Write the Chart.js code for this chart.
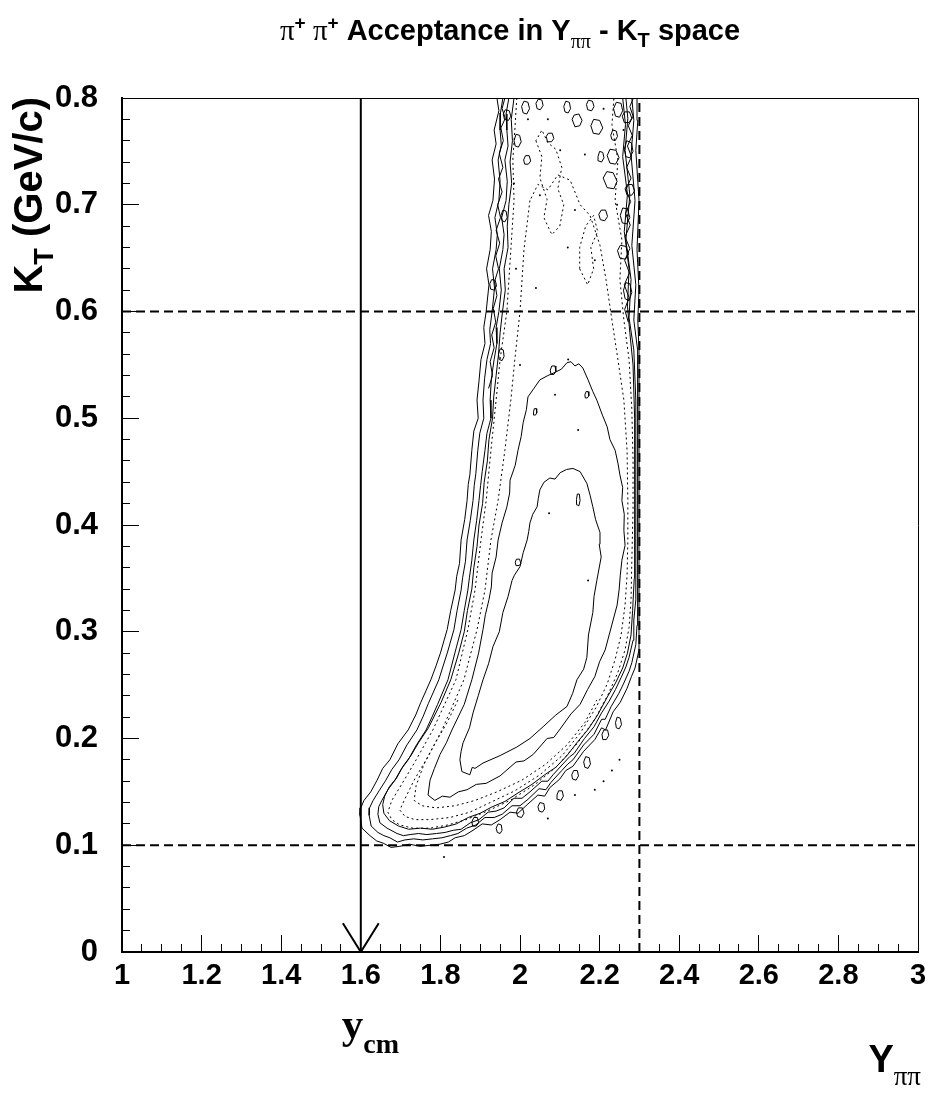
<!DOCTYPE html>
<html>
<head>
<meta charset="utf-8">
<title>pi+ pi+ Acceptance in Y - KT space</title>
<script src="https://cdn.jsdelivr.net/npm/chart.js@4.4.1/dist/chart.umd.min.js"></script>
<style>
html,body{margin:0;padding:0;background:#fff;overflow:hidden;}
canvas{display:block;}
</style>
</head>
<body>
<canvas id="c" width="933" height="1093"></canvas>
<script>
// ---------------- axis ranges and ticks ----------------
const xRange = [1, 3];
const yRange = [0, 0.8];
const xTickValues = [1, 1.2, 1.4, 1.6, 1.8, 2, 2.2, 2.4, 2.6, 2.8, 3];
const xTickLabels = ['1', '1.2', '1.4', '1.6', '1.8', '2', '2.2', '2.4', '2.6', '2.8', '3'];
const yTickValues = [0, 0.1, 0.2, 0.3, 0.4, 0.5, 0.6, 0.7, 0.8];
const yTickLabels = ['0', '0.1', '0.2', '0.3', '0.4', '0.5', '0.6', '0.7', '0.8'];
const xMinorStep = 0.05;
const yMinorStep = 0.02;

// ---------------- cut lines and y_cm arrow ----------------
const kTCuts = [0.1, 0.6];
const yAcceptEdge = 2.3;
const yCm = 1.6;
const arrowHead = [[1.555, 0.027], [1.6, 0.0], [1.645, 0.027]];

// ---------------- contour lines (Y_pipi, K_T) ----------------
const outer1 = [[1.942,0.800],[1.947,0.788],[1.935,0.770],[1.940,0.757],[1.930,0.742],[1.936,0.724],[1.932,0.704],[1.921,0.690],[1.928,0.675],[1.925,0.658],[1.916,0.640],[1.922,0.625],[1.915,0.600],[1.909,0.585],[1.912,0.570],[1.902,0.555],[1.897,0.535],[1.892,0.517],[1.895,0.500],[1.884,0.488],[1.879,0.470],[1.874,0.447],[1.870,0.438],[1.867,0.423],[1.861,0.405],[1.852,0.386],[1.848,0.364],[1.841,0.352],[1.837,0.339],[1.826,0.320],[1.817,0.302],[1.800,0.280],[1.789,0.268],[1.776,0.255],[1.751,0.234],[1.738,0.222],[1.719,0.208],[1.693,0.195],[1.673,0.180],[1.655,0.172],[1.641,0.161],[1.625,0.150],[1.608,0.142],[1.600,0.135],[1.598,0.128],[1.603,0.116],[1.623,0.109],[1.640,0.104],[1.656,0.102],[1.676,0.098],[1.698,0.099],[1.722,0.101],[1.749,0.099],[1.775,0.100],[1.799,0.101],[1.820,0.103],[1.837,0.107],[1.860,0.109],[1.882,0.114],[1.905,0.120],[1.928,0.119],[1.950,0.124],[1.975,0.131],[1.995,0.130],[2.018,0.138],[2.045,0.147],[2.062,0.146],[2.075,0.154],[2.100,0.162],[2.115,0.170],[2.133,0.174],[2.160,0.188],[2.188,0.199],[2.205,0.210],[2.215,0.208],[2.234,0.225],[2.252,0.234],[2.269,0.247],[2.280,0.258],[2.289,0.266],[2.299,0.283],[2.299,0.330],[2.299,0.423],[2.299,0.517],[2.299,0.564],[2.296,0.592],[2.299,0.620],[2.294,0.658],[2.299,0.704],[2.291,0.751],[2.296,0.779],[2.294,0.800]];

const outer2 = [[1.957,0.800],[1.951,0.786],[1.950,0.770],[1.953,0.756],[1.945,0.742],[1.950,0.722],[1.947,0.704],[1.937,0.688],[1.943,0.672],[1.940,0.658],[1.931,0.640],[1.936,0.622],[1.930,0.600],[1.924,0.583],[1.926,0.570],[1.917,0.555],[1.911,0.537],[1.907,0.517],[1.909,0.500],[1.899,0.486],[1.894,0.470],[1.889,0.448],[1.885,0.437],[1.882,0.423],[1.875,0.404],[1.867,0.386],[1.863,0.366],[1.856,0.351],[1.852,0.339],[1.842,0.320],[1.834,0.302],[1.818,0.281],[1.806,0.267],[1.796,0.255],[1.770,0.233],[1.757,0.221],[1.741,0.208],[1.716,0.194],[1.696,0.180],[1.678,0.171],[1.663,0.161],[1.646,0.151],[1.631,0.142],[1.622,0.135],[1.621,0.128],[1.626,0.118],[1.643,0.112],[1.658,0.109],[1.673,0.107],[1.692,0.103],[1.711,0.105],[1.733,0.106],[1.756,0.105],[1.780,0.106],[1.804,0.107],[1.825,0.109],[1.844,0.111],[1.866,0.116],[1.889,0.119],[1.912,0.126],[1.935,0.126],[1.955,0.129],[1.980,0.137],[2.000,0.137],[2.020,0.143],[2.048,0.153],[2.065,0.152],[2.078,0.159],[2.105,0.170],[2.120,0.176],[2.133,0.180],[2.160,0.194],[2.186,0.204],[2.205,0.218],[2.214,0.218],[2.229,0.230],[2.248,0.242],[2.261,0.252],[2.274,0.263],[2.281,0.271],[2.291,0.288],[2.294,0.306],[2.296,0.330],[2.296,0.423],[2.296,0.517],[2.294,0.564],[2.286,0.592],[2.291,0.625],[2.281,0.662],[2.289,0.704],[2.279,0.747],[2.286,0.779],[2.281,0.800]];

const outer3 = [[1.972,0.800],[1.965,0.785],[1.967,0.770],[1.970,0.755],[1.962,0.742],[1.968,0.722],[1.965,0.704],[1.954,0.688],[1.960,0.672],[1.957,0.658],[1.948,0.640],[1.953,0.620],[1.947,0.600],[1.940,0.585],[1.942,0.570],[1.935,0.555],[1.928,0.537],[1.925,0.517],[1.927,0.500],[1.917,0.486],[1.912,0.470],[1.905,0.450],[1.901,0.437],[1.897,0.423],[1.891,0.404],[1.884,0.386],[1.879,0.367],[1.873,0.351],[1.869,0.339],[1.860,0.320],[1.852,0.302],[1.837,0.281],[1.828,0.268],[1.819,0.255],[1.793,0.232],[1.780,0.221],[1.764,0.208],[1.740,0.194],[1.719,0.180],[1.701,0.171],[1.686,0.161],[1.668,0.152],[1.653,0.142],[1.645,0.136],[1.643,0.129],[1.648,0.121],[1.666,0.116],[1.691,0.111],[1.707,0.109],[1.724,0.110],[1.745,0.111],[1.766,0.110],[1.790,0.111],[1.812,0.112],[1.832,0.114],[1.852,0.115],[1.875,0.121],[1.897,0.124],[1.920,0.131],[1.940,0.132],[1.960,0.135],[1.985,0.144],[2.005,0.144],[2.025,0.150],[2.055,0.160],[2.070,0.160],[2.083,0.166],[2.110,0.177],[2.125,0.183],[2.136,0.186],[2.162,0.200],[2.186,0.211],[2.205,0.224],[2.224,0.235],[2.240,0.246],[2.254,0.257],[2.266,0.267],[2.274,0.276],[2.284,0.292],[2.286,0.311],[2.291,0.330],[2.291,0.423],[2.291,0.517],[2.286,0.564],[2.274,0.594],[2.279,0.630],[2.266,0.667],[2.276,0.709],[2.264,0.751],[2.271,0.781],[2.266,0.800]];

const outer4 = [[1.985,0.800],[1.978,0.780],[1.981,0.760],[1.975,0.740],[1.979,0.720],[1.972,0.700],[1.968,0.680],[1.970,0.660],[1.960,0.640],[1.963,0.620],[1.956,0.600],[1.950,0.580],[1.946,0.560],[1.940,0.540],[1.934,0.520],[1.931,0.500],[1.922,0.480],[1.918,0.460],[1.910,0.440],[1.906,0.420],[1.897,0.400],[1.892,0.380],[1.884,0.360],[1.879,0.340],[1.868,0.320],[1.860,0.300],[1.846,0.280],[1.834,0.265],[1.826,0.255],[1.802,0.234],[1.786,0.222],[1.770,0.210],[1.745,0.196],[1.726,0.184],[1.706,0.174],[1.690,0.163],[1.672,0.155],[1.660,0.146],[1.655,0.138],[1.658,0.130],[1.672,0.123],[1.695,0.118],[1.720,0.115],[1.750,0.116],[1.780,0.115],[1.810,0.117],[1.840,0.120],[1.870,0.126],[1.900,0.130],[1.930,0.136],[1.962,0.141],[1.995,0.149],[2.030,0.157],[2.062,0.166],[2.090,0.173],[2.118,0.184],[2.145,0.197],[2.170,0.208],[2.195,0.222],[2.218,0.238],[2.240,0.252],[2.258,0.266],[2.270,0.280],[2.279,0.297],[2.283,0.320],[2.287,0.350],[2.288,0.420],[2.288,0.500],[2.284,0.550],[2.276,0.580],[2.270,0.605],[2.274,0.640],[2.262,0.675],[2.270,0.710],[2.258,0.745],[2.265,0.775],[2.258,0.800]];

// jagged fluctuation fragments along the upper edges
const edgeNoiseLeft = [[1.962,0.800],[1.955,0.790],[1.963,0.781],[1.952,0.772],[1.958,0.760],[1.948,0.748],[1.957,0.735],[1.946,0.724],[1.955,0.712],[1.944,0.700],[1.951,0.688],[1.940,0.676],[1.949,0.664],[1.939,0.652],[1.946,0.640],[1.936,0.628],[1.942,0.615],[1.933,0.603],[1.939,0.590],[1.929,0.578],[1.935,0.566],[1.925,0.553],[1.931,0.540],[1.921,0.528]];
const edgeNoiseRight = [[2.285,0.800],[2.276,0.792],[2.284,0.783],[2.272,0.774],[2.282,0.765],[2.270,0.755],[2.280,0.745],[2.268,0.735],[2.279,0.725],[2.266,0.714],[2.278,0.703],[2.265,0.692],[2.277,0.681],[2.264,0.670],[2.276,0.659],[2.263,0.648],[2.275,0.636],[2.262,0.625],[2.274,0.613],[2.263,0.602],[2.272,0.590]];

const dotted1 = [[1.992,0.800],[1.987,0.770],[1.982,0.742],[1.985,0.704],[1.977,0.658],[1.967,0.600],[1.950,0.555],[1.940,0.517],[1.927,0.470],[1.915,0.423],[1.902,0.386],[1.887,0.339],[1.869,0.302],[1.839,0.255],[1.781,0.208],[1.739,0.180],[1.709,0.161],[1.678,0.142],[1.668,0.131],[1.678,0.124],[1.698,0.119],[1.731,0.116],[1.774,0.116],[1.819,0.119],[1.864,0.124],[1.912,0.131],[1.975,0.142],[2.038,0.157],[2.093,0.174],[2.143,0.195],[2.188,0.218],[2.221,0.241],[2.246,0.262],[2.264,0.283],[2.274,0.304],[2.279,0.330],[2.281,0.367],[2.284,0.414],[2.284,0.461],[2.281,0.508],[2.274,0.555],[2.261,0.592],[2.251,0.630],[2.256,0.667],[2.239,0.704],[2.246,0.742],[2.231,0.775],[2.236,0.800]];

const dotted2 = [[2.025,0.704],[2.010,0.658],[2.000,0.600],[1.987,0.555],[1.977,0.517],[1.962,0.470],[1.945,0.423],[1.927,0.386],[1.912,0.339],[1.892,0.302],[1.859,0.255],[1.804,0.208],[1.764,0.180],[1.734,0.161],[1.709,0.142],[1.698,0.133],[1.711,0.127],[1.736,0.124],[1.774,0.124],[1.824,0.126],[1.874,0.131],[1.925,0.140],[1.987,0.151],[2.050,0.166],[2.106,0.184],[2.151,0.205],[2.191,0.229],[2.219,0.251],[2.239,0.274],[2.254,0.297],[2.264,0.325],[2.269,0.353],[2.271,0.386],[2.271,0.423],[2.269,0.470],[2.261,0.517],[2.246,0.555],[2.231,0.592],[2.216,0.630],[2.201,0.662],[2.176,0.690],[2.151,0.700],[2.126,0.723],[2.095,0.728],[2.070,0.714],[2.045,0.719],[2.025,0.704]];

const dotted3 = [[1.844,0.236],[1.817,0.215],[1.789,0.197],[1.759,0.176],[1.739,0.156],[1.734,0.142],[1.754,0.137],[1.789,0.135],[1.837,0.137],[1.887,0.142],[1.942,0.150],[2.005,0.161],[2.065,0.176],[2.118,0.194],[2.163,0.215],[2.193,0.236]];

const dotted4 = [[2.040,0.760],[2.055,0.745],[2.050,0.725],[2.068,0.705],[2.060,0.688],[2.080,0.672],[2.100,0.680],[2.110,0.700],[2.095,0.715],[2.105,0.735],[2.090,0.752],[2.070,0.758],[2.055,0.770],[2.040,0.760]];

const dotted5 = [[2.150,0.640],[2.170,0.625],[2.185,0.640],[2.178,0.660],[2.195,0.675],[2.185,0.690],[2.165,0.680],[2.150,0.660],[2.150,0.640]];

const innerA = [[2.158,0.547],[2.148,0.551],[2.138,0.549],[2.128,0.553],[2.118,0.552],[2.104,0.546],[2.088,0.543],[2.070,0.540],[2.050,0.536],[2.035,0.528],[2.020,0.520],[2.016,0.508],[2.008,0.496],[2.003,0.483],[1.995,0.470],[1.988,0.456],[1.975,0.442],[1.974,0.430],[1.967,0.417],[1.955,0.402],[1.945,0.386],[1.940,0.370],[1.930,0.355],[1.928,0.342],[1.922,0.330],[1.913,0.316],[1.907,0.302],[1.896,0.280],[1.879,0.255],[1.860,0.232],[1.829,0.208],[1.815,0.196],[1.799,0.185],[1.785,0.172],[1.774,0.161],[1.769,0.147],[1.786,0.142],[1.805,0.146],[1.824,0.145],[1.845,0.150],[1.867,0.152],[1.890,0.157],[1.915,0.158],[1.950,0.165],[1.990,0.178],[2.010,0.179],[2.033,0.185],[2.068,0.200],[2.085,0.201],[2.101,0.209],[2.128,0.223],[2.151,0.232],[2.170,0.246],[2.188,0.258],[2.200,0.272],[2.214,0.283],[2.224,0.297],[2.234,0.311],[2.244,0.325],[2.249,0.339],[2.252,0.353],[2.256,0.367],[2.264,0.381],[2.261,0.395],[2.262,0.410],[2.256,0.423],[2.258,0.435],[2.251,0.447],[2.246,0.458],[2.239,0.470],[2.226,0.480],[2.219,0.492],[2.207,0.503],[2.193,0.517],[2.183,0.525],[2.171,0.536],[2.158,0.547]];

const innerB = [[2.133,0.453],[2.117,0.452],[2.101,0.449],[2.088,0.443],[2.075,0.444],[2.060,0.440],[2.050,0.433],[2.046,0.425],[2.043,0.417],[2.032,0.410],[2.025,0.402],[2.022,0.394],[2.018,0.386],[2.008,0.374],[2.000,0.361],[1.986,0.353],[1.980,0.348],[1.970,0.333],[1.957,0.318],[1.948,0.300],[1.932,0.286],[1.921,0.270],[1.907,0.255],[1.895,0.240],[1.882,0.224],[1.873,0.210],[1.857,0.196],[1.852,0.188],[1.849,0.180],[1.854,0.169],[1.874,0.166],[1.880,0.173],[1.887,0.172],[1.907,0.177],[1.950,0.184],[1.992,0.192],[2.025,0.200],[2.058,0.211],[2.090,0.222],[2.118,0.230],[2.132,0.242],[2.143,0.255],[2.160,0.265],[2.168,0.276],[2.172,0.297],[2.183,0.318],[2.186,0.333],[2.193,0.348],[2.204,0.370],[2.199,0.382],[2.201,0.393],[2.190,0.405],[2.183,0.417],[2.176,0.428],[2.168,0.439],[2.151,0.450],[2.133,0.453]];

// small fluctuation islands (closed contours)
const islands = [
 [[2.131,0.780],[2.136,0.784],[2.148,0.785],[2.156,0.779],[2.150,0.774],[2.138,0.773],[2.131,0.780]],
 [[2.178,0.774],[2.185,0.780],[2.200,0.779],[2.208,0.772],[2.199,0.766],[2.184,0.767],[2.178,0.774]],
 [[2.219,0.746],[2.226,0.752],[2.241,0.751],[2.249,0.744],[2.240,0.738],[2.226,0.739],[2.219,0.746]],
 [[2.257,0.783],[2.263,0.787],[2.275,0.787],[2.281,0.781],[2.274,0.777],[2.262,0.777],[2.257,0.783]],
 [[2.066,0.764],[2.071,0.767],[2.081,0.767],[2.085,0.762],[2.079,0.759],[2.069,0.759],[2.066,0.764]],
 [[2.009,0.742],[2.014,0.746],[2.023,0.746],[2.027,0.741],[2.021,0.738],[2.012,0.738],[2.009,0.742]],
 [[2.209,0.725],[2.218,0.731],[2.234,0.730],[2.244,0.722],[2.236,0.715],[2.219,0.716],[2.209,0.725]],
 [[2.264,0.715],[2.270,0.719],[2.282,0.719],[2.288,0.713],[2.281,0.709],[2.269,0.709],[2.264,0.715]],
 [[2.245,0.657],[2.252,0.662],[2.266,0.661],[2.273,0.654],[2.265,0.649],[2.251,0.650],[2.245,0.657]],
 [[2.198,0.691],[2.204,0.695],[2.215,0.695],[2.220,0.689],[2.213,0.685],[2.202,0.686],[2.198,0.691]],
 [[1.958,0.785],[1.963,0.789],[1.973,0.788],[1.977,0.783],[1.971,0.779],[1.961,0.780],[1.958,0.785]],
 [[2.167,0.794],[2.172,0.798],[2.182,0.797],[2.186,0.792],[2.180,0.788],[2.170,0.789],[2.167,0.794]],
 [[1.924,0.626],[1.929,0.630],[1.938,0.629],[1.941,0.624],[1.935,0.620],[1.926,0.621],[1.924,0.626]],
 [[2.235,0.790],[2.242,0.796],[2.254,0.795],[2.258,0.788],[2.250,0.782],[2.240,0.783],[2.235,0.790]],
 [[2.262,0.752],[2.268,0.760],[2.280,0.758],[2.284,0.750],[2.276,0.744],[2.266,0.745],[2.262,0.752]],
 [[2.228,0.765],[2.233,0.770],[2.242,0.769],[2.245,0.764],[2.239,0.760],[2.231,0.761],[2.228,0.765]],
 [[2.252,0.690],[2.258,0.697],[2.270,0.696],[2.276,0.688],[2.268,0.682],[2.257,0.683],[2.252,0.690]],
 [[2.260,0.620],[2.266,0.627],[2.276,0.626],[2.281,0.618],[2.274,0.610],[2.264,0.612],[2.260,0.620]],
 [[2.004,0.792],[2.010,0.797],[2.020,0.796],[2.024,0.790],[2.017,0.785],[2.008,0.786],[2.004,0.792]],
 [[2.040,0.795],[2.046,0.799],[2.055,0.798],[2.058,0.793],[2.051,0.789],[2.043,0.790],[2.040,0.795]],
 [[1.985,0.760],[1.990,0.766],[1.999,0.765],[2.003,0.759],[1.996,0.754],[1.988,0.755],[1.985,0.760]],
 [[1.952,0.690],[1.957,0.695],[1.965,0.694],[1.968,0.688],[1.962,0.684],[1.955,0.685],[1.952,0.690]],
 [[1.946,0.560],[1.950,0.565],[1.958,0.564],[1.960,0.558],[1.955,0.554],[1.948,0.555],[1.946,0.560]],
 [[2.110,0.792],[2.115,0.797],[2.124,0.796],[2.127,0.790],[2.121,0.786],[2.113,0.787],[2.110,0.792]],
 [[2.196,0.745],[2.200,0.750],[2.208,0.749],[2.211,0.744],[2.205,0.740],[2.198,0.741],[2.196,0.745]],
 [[1.991,0.131],[1.996,0.135],[2.006,0.135],[2.010,0.130],[2.004,0.126],[1.994,0.127],[1.991,0.131]],
 [[1.879,0.122],[1.884,0.126],[1.893,0.126],[1.896,0.121],[1.890,0.118],[1.881,0.118],[1.879,0.122]],
 [[2.130,0.166],[2.135,0.170],[2.144,0.170],[2.147,0.165],[2.141,0.161],[2.132,0.162],[2.130,0.166]],
 [[2.206,0.204],[2.211,0.208],[2.220,0.208],[2.223,0.203],[2.217,0.199],[2.208,0.199],[2.206,0.204]],
 [[2.093,0.147],[2.097,0.151],[2.106,0.151],[2.109,0.146],[2.103,0.142],[2.095,0.143],[2.093,0.147]],
 [[2.160,0.178],[2.165,0.183],[2.174,0.182],[2.177,0.176],[2.171,0.172],[2.163,0.173],[2.160,0.178]],
 [[2.240,0.215],[2.244,0.220],[2.252,0.219],[2.255,0.213],[2.249,0.209],[2.242,0.210],[2.240,0.215]],
 [[2.045,0.136],[2.050,0.140],[2.060,0.139],[2.062,0.134],[2.056,0.131],[2.048,0.132],[2.045,0.136]],
 [[1.940,0.116],[1.945,0.120],[1.953,0.119],[1.955,0.114],[1.950,0.111],[1.943,0.112],[1.940,0.116]],
 [[2.076,0.545],[2.080,0.549],[2.088,0.549],[2.090,0.544],[2.085,0.541],[2.078,0.541],[2.076,0.545]],
 [[2.163,0.522],[2.166,0.525],[2.171,0.525],[2.173,0.521],[2.169,0.519],[2.164,0.519],[2.163,0.522]],
 [[2.142,0.424],[2.144,0.429],[2.149,0.429],[2.151,0.423],[2.148,0.418],[2.143,0.419],[2.142,0.424]],
 [[2.034,0.506],[2.036,0.509],[2.041,0.509],[2.042,0.505],[2.039,0.503],[2.035,0.503],[2.034,0.506]],
 [[1.988,0.365],[1.991,0.368],[1.999,0.368],[2.002,0.364],[1.998,0.362],[1.990,0.362],[1.988,0.365]]
];

// isolated single-bin specks
const specks = [[2.101,0.751],[2.163,0.747],[2.050,0.709],[2.138,0.695],[2.188,0.648],[2.244,0.700],[2.088,0.522],[2.146,0.489],[2.121,0.555],[2.073,0.411],[2.171,0.348],[1.809,0.089],[2.138,0.147],[2.231,0.170],[2.188,0.152],[2.000,0.550],[2.040,0.622],[2.020,0.780],[2.070,0.780],[2.260,0.770],[2.210,0.790],[1.985,0.720],[2.120,0.660],[2.230,0.600],[2.270,0.690],[1.990,0.640],[2.250,0.180],[2.070,0.125],[2.210,0.160],[2.160,0.600]];

// ---------------- helpers ----------------
const toXY = arr => arr.map(p => ({x: p[0], y: p[1]}));
const BLACK = '#000000';
function lineSet(arr, opts) {
  return Object.assign({
    data: toXY(arr), showLine: true, borderColor: BLACK, backgroundColor: BLACK,
    borderWidth: 1, pointRadius: 0, pointHoverRadius: 0, fill: false, tension: 0
  }, opts || {});
}

const datasets = [];
kTCuts.forEach(k => datasets.push(lineSet([[xRange[0], k], [xRange[1], k]], {borderWidth: 2, borderDash: [9, 5]})));
datasets.push(lineSet([[yAcceptEdge, yRange[0]], [yAcceptEdge, yRange[1]]], {borderWidth: 2, borderDash: [9, 5]}));
datasets.push(lineSet([[yCm, yRange[1]], [yCm, yRange[0]]], {borderWidth: 2}));
datasets.push(lineSet(arrowHead, {borderWidth: 2}));
[outer1, outer2, outer3, outer4, edgeNoiseLeft, edgeNoiseRight].forEach(c => datasets.push(lineSet(c)));
[dotted1, dotted2, dotted3, dotted4, dotted5].forEach(c => datasets.push(lineSet(c, {borderDash: [2, 3]})));
[innerA, innerB].forEach(c => datasets.push(lineSet(c)));
islands.forEach(c => datasets.push(lineSet(c)));
datasets.push({data: toXY(specks), showLine: false, pointRadius: 1, pointBackgroundColor: BLACK, pointBorderColor: BLACK, pointBorderWidth: 0});

// ---------------- text (titles) ----------------
const SANS = '"Liberation Sans", Arial, Helvetica, sans-serif';
const SERIF = '"Liberation Serif", "Times New Roman", Times, serif';
const titleRuns = [
  {t: 'π', font: '29px ' + SERIF},
  {t: '+', font: 'bold 19px ' + SANS, dy: -11},
  {t: ' π', font: '29px ' + SERIF},
  {t: '+', font: 'bold 19px ' + SANS, dy: -11},
  {t: ' Acceptance in Y', font: 'bold 29px ' + SANS},
  {t: 'ππ', font: '20px ' + SERIF, dy: 8},
  {t: ' - K', font: 'bold 29px ' + SANS},
  {t: 'T', font: 'bold 20px ' + SANS, dy: 7},
  {t: ' space', font: 'bold 29px ' + SANS}
];
const yTitleRuns = [
  {t: 'K', font: 'bold 40px ' + SANS},
  {t: 'T', font: 'bold 27px ' + SANS, dy: 11},
  {t: ' (GeV/c)', font: 'bold 40px ' + SANS}
];
const xTitleRuns = [
  {t: 'Y', font: 'bold 38px ' + SANS},
  {t: 'ππ', font: '27px ' + SERIF, dy: 13}
];
const yCmRuns = [
  {t: 'y', font: 'bold 43px ' + SERIF},
  {t: 'cm', font: 'bold 28px ' + SERIF, dy: 15}
];

function drawRuns(ctx, runs, x, y, align) {
  let total = 0;
  runs.forEach(r => { ctx.font = r.font; r.w = ctx.measureText(r.t).width; total += r.w; });
  let cx = align === 'center' ? x - total / 2 : (align === 'right' ? x - total : x);
  ctx.textAlign = 'left';
  ctx.textBaseline = 'alphabetic';
  runs.forEach(r => { ctx.font = r.font; ctx.fillText(r.t, cx, y + (r.dy || 0)); cx += r.w; });
}

const textPlugin = {
  id: 'rootTexts',
  afterDraw(chart) {
    const ctx = chart.ctx;
    const ca = chart.chartArea;
    ctx.save();
    ctx.fillStyle = BLACK;
    drawRuns(ctx, titleRuns, 510, 40, 'center');
    drawRuns(ctx, xTitleRuns, ca.right + 3, 1072, 'right');
    const px = chart.scales.x.getPixelForValue(yCm);
    drawRuns(ctx, yCmRuns, px - 19, 1038, 'left');
    ctx.translate(42, ca.top - 1);
    ctx.rotate(-Math.PI / 2);
    drawRuns(ctx, yTitleRuns, 0, 0, 'right');
    ctx.restore();
  }
};

const tickFontX = {family: SANS, size: 29, weight: 'bold'};
const tickFontY = {family: SANS, size: 31, weight: 'bold'};
const noPadH = s => { s.paddingLeft = 0; s.paddingRight = 0; };
const noPadV = s => { s.paddingTop = 0; s.paddingBottom = 0; };

new Chart(document.getElementById('c'), {
  type: 'scatter',
  data: {datasets: datasets},
  plugins: [textPlugin],
  options: {
    responsive: false,
    maintainAspectRatio: false,
    devicePixelRatio: 1,
    animation: false,
    events: [],
    layout: {padding: {top: 98, right: 15, bottom: 0, left: 0}},
    plugins: {legend: {display: false}, tooltip: {enabled: false}, title: {display: false}},
    scales: {
      x: {
        type: 'linear', position: 'bottom', min: xRange[0], max: xRange[1], weight: 1,
        afterBuildTicks: s => { s.ticks = xTickValues.map(v => ({value: v})); },
        ticks: {callback: (v, i) => xTickLabels[i], font: tickFontX, color: BLACK, padding: 24, maxRotation: 0, autoSkip: false},
        grid: {display: true, drawOnChartArea: false, drawTicks: true, tickLength: -17, tickColor: BLACK, tickWidth: 1},
        border: {display: true, color: BLACK, width: 2},
        afterFit: s => { s.height = 141; noPadH(s); }
      },
      xMinor: {
        type: 'linear', position: 'bottom', min: xRange[0], max: xRange[1], weight: 0,
        ticks: {display: false, stepSize: xMinorStep, maxTicksLimit: 200, autoSkip: false},
        grid: {display: true, drawOnChartArea: false, drawTicks: true, tickLength: -8, tickColor: BLACK, tickWidth: 1},
        border: {display: false},
        afterFit: s => { s.height = 0; noPadH(s); }
      },
      xTop: {
        type: 'linear', position: 'top', min: xRange[0], max: xRange[1],
        ticks: {display: false}, grid: {display: false},
        border: {display: true, color: BLACK, width: 1},
        afterFit: s => { s.height = 0; noPadH(s); }
      },
      y: {
        type: 'linear', position: 'left', min: yRange[0], max: yRange[1], weight: 1,
        afterBuildTicks: s => { s.ticks = yTickValues.map(v => ({value: v})); },
        ticks: {callback: (v, i) => yTickLabels[i], font: tickFontY, color: BLACK, padding: 41, autoSkip: false},
        grid: {display: true, drawOnChartArea: false, drawTicks: true, tickLength: -17, tickColor: BLACK, tickWidth: 1},
        border: {display: true, color: BLACK, width: 2},
        afterFit: s => { s.width = 122; noPadV(s); }
      },
      yMinor: {
        type: 'linear', position: 'left', min: yRange[0], max: yRange[1], weight: 0,
        ticks: {display: false, stepSize: yMinorStep, maxTicksLimit: 200, autoSkip: false},
        grid: {display: true, drawOnChartArea: false, drawTicks: true, tickLength: -8, tickColor: BLACK, tickWidth: 1},
        border: {display: false},
        afterFit: s => { s.width = 0; noPadV(s); }
      },
      yRight: {
        type: 'linear', position: 'right', min: yRange[0], max: yRange[1],
        ticks: {display: false}, grid: {display: false},
        border: {display: true, color: BLACK, width: 1},
        afterFit: s => { s.width = 0; noPadV(s); }
      }
    }
  }
});
</script>
</body>
</html>
